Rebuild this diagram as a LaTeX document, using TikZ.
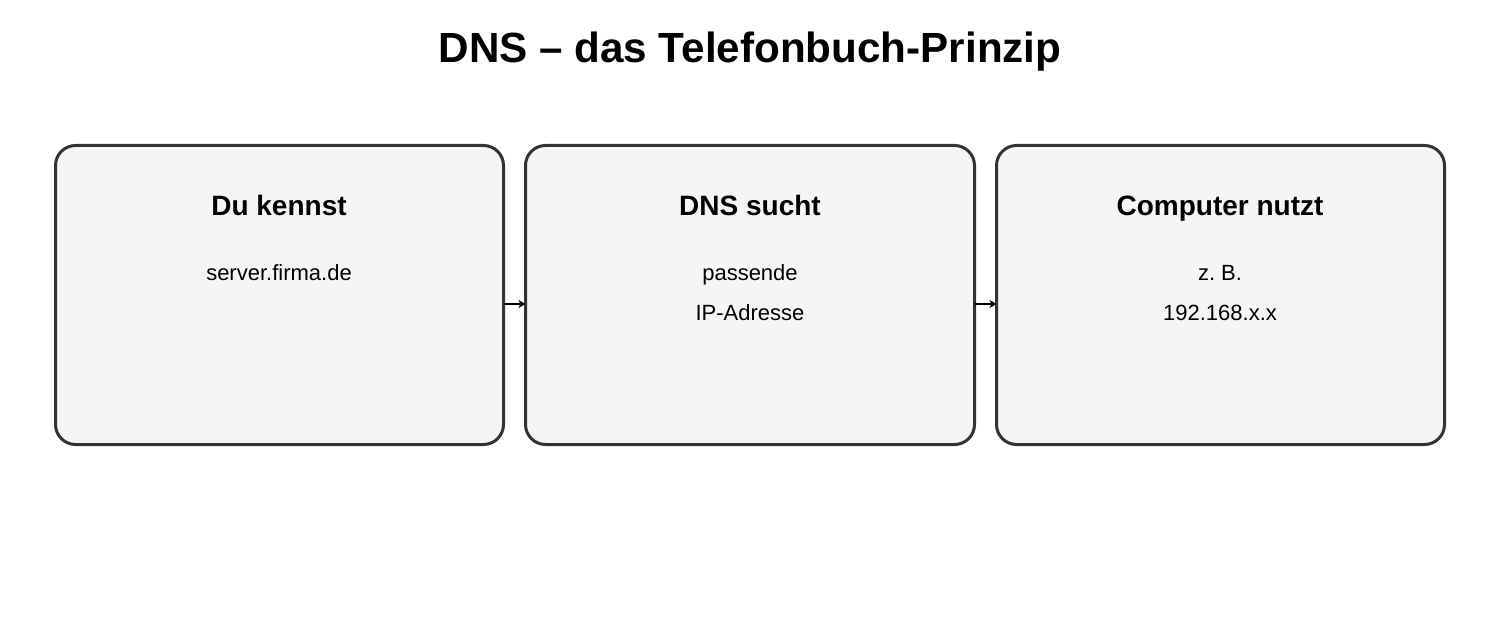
\documentclass[tikz,border=0pt]{standalone}
\usepackage{fontspec}
\setmainfont{Liberation Sans}
\usetikzlibrary{arrows.meta}
\frenchspacing
\tikzset{
  card/.style={draw=black!80, line width=3pt, fill=black!4, rounded corners=20pt},
  title/.style={font=\fontsize{42.2}{50}\selectfont\bfseries, anchor=base},
  head/.style={font=\fontsize{28}{34}\selectfont\bfseries, anchor=base},
  body/.style={font=\fontsize{22}{26}\selectfont, anchor=base},
  link/.style={line width=1.5pt, -{Stealth[length=7pt,width=8pt,inset=2pt]}}
}
\begin{document}
\begin{tikzpicture}[x=1pt,y=-1pt]
\useasboundingbox (0,0) rectangle (1500,620);
\node[title] (t) at (750,62.5) {DNS – das Telefonbuch-Prinzip};
% boxes
\draw[card] (55.5,145.5) rectangle (503.5,444.5);
\draw[card] (525.5,145.5) rectangle (974.5,444.5);
\draw[card] (996.5,145.5) rectangle (1444.5,444.5);
\coordinate (b1r) at (503.5,304);
\coordinate (b2l) at (525.5,304);
\coordinate (b2r) at (974.5,304);
\coordinate (b3l) at (996.5,304);
\node[head] (h1) at (279,215.5) {Du kennst};
\node[body] (l11) at (279,280.5) {server.firma.de};
\node[head] (h2) at (750,215.5) {DNS sucht};
\node[body] (l21) at (750,280.5) {passende};
\node[body] (l22) at (750,320.5) {IP-Adresse};
\node[head] (h3) at (1220,215.5) {Computer nutzt};
\node[body] (l31) at (1220,280.5) {z. B.};
\node[body] (l32) at (1220,320.5) {192.168.x.x};
\draw[link] (b1r) -- (b2l);
\draw[link] (b2r) -- (b3l);
\end{tikzpicture}
\end{document}
